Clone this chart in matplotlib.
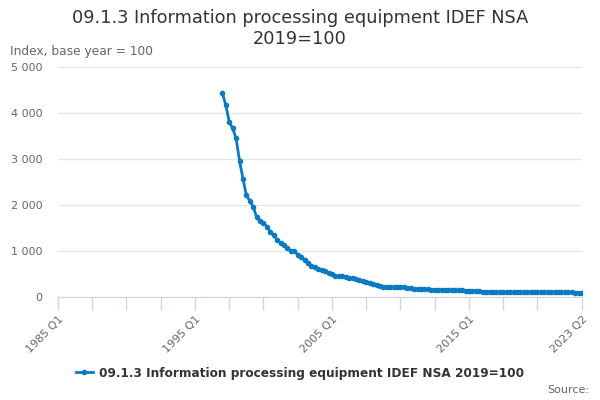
"""
Drawing of the quarterly index:

        '09.1.3 Information processing equipment IDEF NSA 2019=100'
"""


import numpy
import matplotlib
matplotlib.use('Agg')
import matplotlib.pyplot as plt
from matplotlib.ticker import FuncFormatter


# Quarterly values, 1997 Q1 to 2023 Q2

first_year = 1997
first_quarter = 1

values = [4428, 4167, 3812, 3667, 3449, 2964, 2572, 2210,
          2094, 1964, 1732, 1652, 1616, 1529, 1413, 1341,
          1239, 1167, 1138, 1058, 1007, 1000, 920, 862,
          804, 746, 681, 645, 609, 580, 558, 525,
          490, 462, 455, 448, 442, 420, 404, 390,
          370, 340, 318, 295, 272, 255, 238, 226,
          220, 217, 218, 216, 214, 210, 204, 196,
          182, 176, 172, 168, 166, 163, 160, 158,
          156, 154, 153, 152, 150, 150, 145, 140,
          136, 130, 126, 122, 118, 116, 114, 113,
          112, 110, 109, 109, 108, 106, 105, 104,
          102, 100, 99, 99, 100, 99, 98, 99,
          98, 100, 101, 100, 99, 98, 98, 97,
          97, 96]

# The axis runs from 1985 Q1 to 2023 Q2

axis_start = (1985, 1)
axis_end = (2023, 2)
labelled_ticks = ['1985 Q1', '1995 Q1', '2005 Q1', '2015 Q1', '2023 Q2']

series_name = '09.1.3 Information processing equipment IDEF NSA 2019=100'
title_lines = ['09.1.3 Information processing equipment IDEF NSA', '2019=100']
y_title = 'Index, base year = 100'
y_ticks = [0, 1000, 2000, 3000, 4000, 5000]


def q_index(year, quarter):
    """Number of quarters since the start of the axis."""
    return (year - axis_start[0])*4 + (quarter - axis_start[1])


def q_label(n):
    return '{} Q{}'.format(axis_start[0] + n//4, n % 4 + 1)


x = q_index(first_year, first_quarter) + numpy.arange(len(values))
last = q_index(*axis_end)

# Colours

blue = '#0a7bc1'
grey_text = '#666666'
dark_text = '#333333'
grid_c = '#e6e6e6'
axis_c = '#ccd6eb'

fig = plt.figure(figsize=(6, 4), dpi=100)
ax = fig.add_axes([58/600, 103/400, 524/600, 230/400])

ax.plot(x, values, color=blue, linewidth=2,
        marker='o', markersize=3, label=series_name)

ax.set_xlim(0, last)
ax.set_ylim(0, 5000)

# Ticks: every 10 quarters, the last one on 2023 Q2

x_ticks = list(range(0, last - 5, 10)) + [last]
ax.set_xticks(x_ticks)
ax.set_xticklabels([q_label(t) if q_label(t) in labelled_ticks else ''
                    for t in x_ticks],
                   rotation=45, ha='right', va='top',
                   rotation_mode='anchor', fontsize=8, color=grey_text)
ax.tick_params(axis='x', length=9, width=1, color=axis_c, pad=3)

ax.set_yticks(y_ticks)
ax.yaxis.set_major_formatter(FuncFormatter(
    lambda v, p: '{:,.0f}'.format(v).replace(',', ' ')))
ax.tick_params(axis='y', length=0, pad=11, labelsize=8, labelcolor=grey_text)
ax.grid(axis='y', color=grid_c, linewidth=1)
ax.set_axisbelow(True)

for side in ['top', 'right', 'left']:
    ax.spines[side].set_visible(False)
ax.spines['bottom'].set_color(axis_c)

# Texts

fig.text(0.5, 1 - 18/400, title_lines[0], ha='center', va='center',
         fontsize=12.8, color=dark_text)
fig.text(0.5, 1 - 39/400, title_lines[1], ha='center', va='center',
         fontsize=12.8, color=dark_text)
fig.text(10/600, 1 - 52/400, y_title, ha='left', va='center',
         fontsize=8.8, color=grey_text)
fig.text(589/600, 1 - 390/400, 'Source:', ha='right', va='center',
         fontsize=8, color=grey_text)

leg = fig.legend(loc='center', bbox_to_anchor=(0.5, 1 - 373/400),
                 frameon=False, handlelength=1.4, handletextpad=0.5,
                 prop={'size': 8.7, 'weight': 'bold'})
for t in leg.get_texts():
    t.set_color(dark_text)

fig.savefig('out.png', dpi=100)
